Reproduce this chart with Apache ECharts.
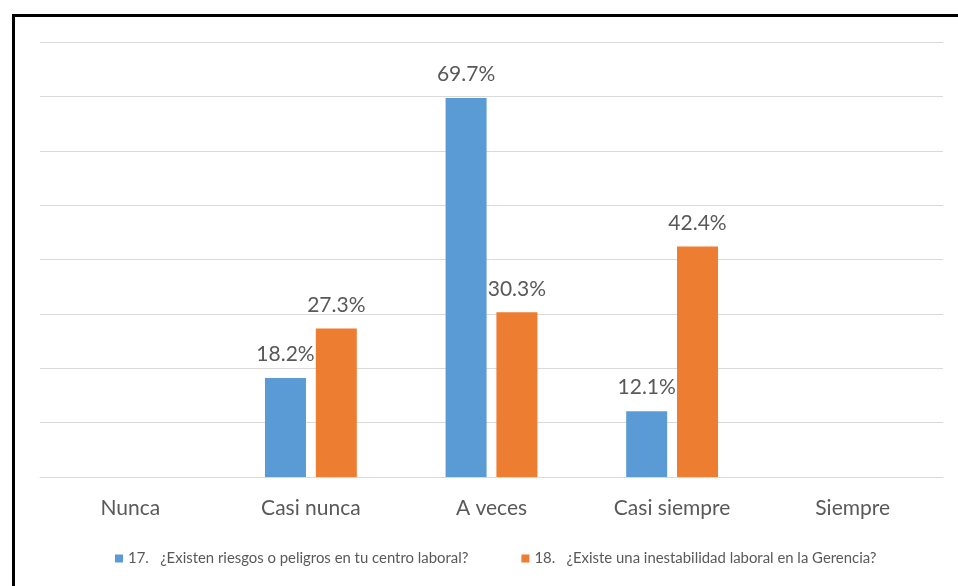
<!DOCTYPE html>
<html>
<head>
<meta charset="utf-8">
<script src="https://cdn.jsdelivr.net/npm/echarts@6/dist/echarts.min.js"></script>
<style>
  html, body { margin: 0; padding: 0; background: #fff; }
  #chart { width: 958px; height: 586px; }
</style>
</head>
<body>
<div id="chart"></div>
<script>
// Response categories on the x axis
const categories = ['Nunca', 'Casi nunca', 'A veces', 'Casi siempre', 'Siempre'];

// Series names (legend)
const seriesNames = [
  '17.   ¿Existen riesgos o peligros en tu centro laboral?',
  '18.   ¿Existe una inestabilidad laboral en la Gerencia?'
];

// Percentages per category
const riesgosValues = [0, 18.2, 69.7, 12.1, 0];
const inestabilidadValues = [0, 27.3, 30.3, 42.4, 0];

const textColor = '#595959';
const fontFamily = 'Lato, "Open Sans", sans-serif';

const valueLabel = {
  show: true,
  position: 'top',
  distance: 13,
  color: textColor,
  fontSize: 21,
  fontFamily: fontFamily,
  formatter: p => (p.value ? p.value.toFixed(1) + '%' : '')
};

const chart = echarts.init(document.getElementById('chart'), null, { renderer: 'canvas' });

chart.setOption({
  backgroundColor: '#ffffff',
  animation: false,
  graphic: [{
    type: 'rect',
    left: 11,
    top: 13,
    shape: { width: 1200, height: 800 },
    style: { fill: 'none', stroke: '#000', lineWidth: 3 },
    silent: true,
    z: 100
  }],
  grid: { left: 40, right: 15, top: 42, bottom: 109 },
  legend: {
    top: 546,
    left: 110,
    itemWidth: 8,
    itemHeight: 8,
    itemGap: 53,
    icon: 'rect',
    textStyle: { color: textColor, fontSize: 14.9, fontFamily: fontFamily },
    data: seriesNames
  },
  xAxis: {
    type: 'category',
    data: categories,
    axisLine: { show: true, lineStyle: { color: '#D9D9D9', width: 1 } },
    axisTick: { show: false },
    axisLabel: { color: textColor, fontSize: 21, fontFamily: fontFamily, margin: 21 }
  },
  yAxis: {
    type: 'value',
    min: 0,
    max: 80,
    interval: 10,
    axisLine: { show: false },
    axisTick: { show: false },
    axisLabel: { show: false },
    splitLine: { lineStyle: { color: '#D9D9D9', width: 1 } }
  },
  series: [
    {
      name: seriesNames[0],
      type: 'bar',
      data: riesgosValues,
      barWidth: '22.7%',
      barGap: '24%',
      itemStyle: { color: '#5B9BD5' },
      label: valueLabel
    },
    {
      name: seriesNames[1],
      type: 'bar',
      data: inestabilidadValues,
      barWidth: '22.7%',
      barGap: '24%',
      itemStyle: { color: '#ED7D31' },
      label: valueLabel
    }
  ]
});
</script>
</body>
</html>
